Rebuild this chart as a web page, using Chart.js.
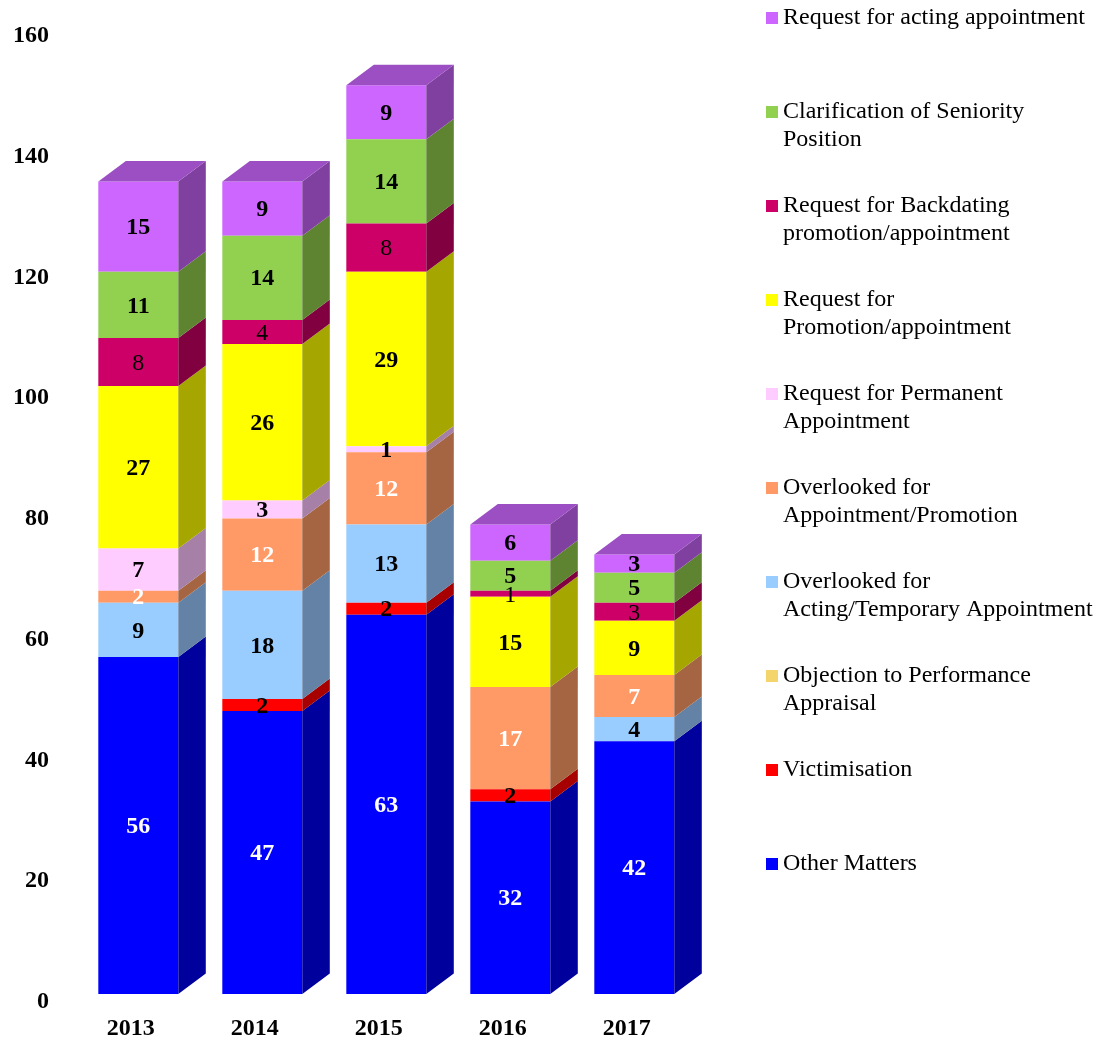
<!DOCTYPE html>
<html>
<head>
<meta charset="utf-8">
<title>Complaints by year</title>
<script src="https://cdn.jsdelivr.net/npm/chart.js@4/dist/chart.umd.min.js"></script>
<style>
    html, body { margin: 0; padding: 0; background: #fff; }
    canvas { display: block; }
</style>
</head>
<body>
<canvas id="complaintsChart" width="1104" height="1040"></canvas>
<script>
const years = ['2013', '2014', '2015', '2016', '2017'];
const yTicks = [0, 20, 40, 60, 80, 100, 120, 140, 160];

// Series, bottom of the stack first
const otherMatters = [56, 47, 63, 32, 42];
const victimisation = [0, 2, 2, 2, 0];
const performanceAppraisal = [0, 0, 0, 0, 0];
const overlookedActing = [9, 18, 13, 0, 4];
const overlookedPromotion = [2, 12, 12, 17, 7];
const permanentAppointment = [7, 3, 1, 0, 0];
const promotionRequest = [27, 26, 29, 15, 9];
const backdating = [8, 4, 8, 1, 3];
const seniority = [11, 14, 14, 5, 5];
const actingAppointment = [15, 9, 9, 6, 3];

const seriesStyles = [
    { lines: ['Other Matters'], data: otherMatters, front: '#0000FF', side: '#00009C', text: '#FFFFFF', weight: 'bold' },
    { lines: ['Victimisation'], data: victimisation, front: '#FF0000', side: '#A60000', text: '#000000', weight: 'bold' },
    { lines: ['Objection to Performance', 'Appraisal'], data: performanceAppraisal, front: '#F4D56B', side: '#9E8A45', text: '#000000', weight: 'bold' },
    { lines: ['Overlooked for', 'Acting/Temporary Appointment'], data: overlookedActing, front: '#99CCFF', side: '#6382A6', text: '#000000', weight: 'bold' },
    { lines: ['Overlooked for', 'Appointment/Promotion'], data: overlookedPromotion, front: '#FF9966', side: '#A66542', text: '#FFFFFF', weight: 'bold' },
    { lines: ['Request for Permanent', 'Appointment'], data: permanentAppointment, front: '#FFCCFF', side: '#A680A6', text: '#000000', weight: 'bold' },
    { lines: ['Request for', 'Promotion/appointment'], data: promotionRequest, front: '#FFFF00', side: '#A6A600', text: '#000000', weight: 'bold' },
    { lines: ['Request for Backdating', 'promotion/appointment'], data: backdating, front: '#CC0066', side: '#800040', text: '#000000', weight: 'normal' },
    { lines: ['Clarification of Seniority', 'Position'], data: seniority, front: '#92D050', side: '#5E8432', text: '#000000', weight: 'bold' },
    { lines: ['Request for acting appointment'], data: actingAppointment, front: '#CC66FF', side: '#8040A0', text: '#000000', weight: 'bold' }
];

const topFaceColor = '#9B4FC3';
const DEPTH_X = 27.5;
const DEPTH_Y = 20.5;
const SERIF = '"Liberation Serif", "Times New Roman", serif';

function fillFace(ctx, points, color) {
    ctx.fillStyle = color;
    ctx.beginPath();
    points.forEach(function(p, i) {
        if (i === 0) ctx.moveTo(p[0], p[1]);
        else ctx.lineTo(p[0], p[1]);
    });
    ctx.closePath();
    ctx.fill();
}

// Side and top faces that give the stacked bars their box look
const boxFaces = {
    id: 'boxFaces',
    afterDatasetsDraw(chart) {
        const ctx = chart.ctx;
        ctx.save();
        seriesStyles.forEach(function(series, s) {
            chart.getDatasetMeta(s).data.forEach(function(bar, i) {
                if (!series.data[i]) return;
                const right = bar.x + bar.width / 2;
                const left = bar.x - bar.width / 2;
                fillFace(ctx, [
                    [right, bar.y],
                    [right + DEPTH_X, bar.y - DEPTH_Y],
                    [right + DEPTH_X, bar.base - DEPTH_Y],
                    [right, bar.base]
                ], series.side);
                const isTop = seriesStyles.slice(s + 1).every(function(other) { return !other.data[i]; });
                if (isTop) {
                    fillFace(ctx, [
                        [left, bar.y],
                        [left + DEPTH_X, bar.y - DEPTH_Y],
                        [right + DEPTH_X, bar.y - DEPTH_Y],
                        [right, bar.y]
                    ], topFaceColor);
                }
            });
        });
        ctx.restore();
    }
};

// Value printed in the middle of each segment
const segmentLabels = {
    id: 'segmentLabels',
    afterDatasetsDraw(chart) {
        const ctx = chart.ctx;
        ctx.save();
        ctx.textAlign = 'center';
        ctx.textBaseline = 'middle';
        seriesStyles.forEach(function(series, s) {
            ctx.font = series.weight + ' 24px ' + SERIF;
            ctx.fillStyle = series.text;
            chart.getDatasetMeta(s).data.forEach(function(bar, i) {
                if (!series.data[i]) return;
                ctx.fillText(series.data[i], bar.x, (bar.y + bar.base) / 2 + 1.5);
            });
        });
        ctx.restore();
    }
};

// Legend column on the right, top of the stack listed first
const sideLegend = {
    id: 'sideLegend',
    afterDraw(chart) {
        const ctx = chart.ctx;
        ctx.save();
        ctx.font = '24px ' + SERIF;
        ctx.textBaseline = 'middle';
        seriesStyles.slice().reverse().forEach(function(series, row) {
            const y = 18 + row * 94;
            ctx.fillStyle = series.front;
            ctx.fillRect(766, y - 6, 12, 12);
            ctx.fillStyle = '#000000';
            series.lines.forEach(function(line, n) {
                ctx.fillText(line, 783, y + n * 28);
            });
        });
        ctx.restore();
    }
};

new Chart(document.getElementById('complaintsChart'), {
    type: 'bar',
    data: {
        labels: years,
        datasets: seriesStyles.map(function(series) {
            return {
                label: series.lines.join(' '),
                data: series.data,
                backgroundColor: series.front,
                borderWidth: 0,
                barPercentage: 0.645,
                categoryPercentage: 1,
                yAxisID: 'y'
            };
        })
    },
    options: {
        responsive: false,
        animation: false,
        layout: {
            padding: { top: 34, right: 407.7, bottom: 0, left: 0 }
        },
        plugins: {
            legend: { display: false },
            tooltip: { enabled: false }
        },
        scales: {
            x: {
                stacked: true,
                grid: { display: false, drawTicks: false },
                border: { display: false },
                afterFit(scale) { scale.height = 40; },
                ticks: {
                    color: '#000',
                    font: { family: SERIF, size: 24, weight: 'bold' },
                    labelOffset: -7.5,
                    padding: 14,
                    maxRotation: 0,
                    autoSkip: false
                }
            },
            // Bars are plotted on this one, the printed axis sits slightly lower
            y: {
                display: false,
                stacked: true,
                min: -1,
                max: 159.5
            },
            yLabels: {
                axis: 'y',
                position: 'left',
                min: 0.33,
                max: 160.33,
                grid: { display: false, drawTicks: false },
                border: { display: false },
                afterFit(scale) {
                    scale.width = 76.3;
                    // tick padding would otherwise push the plot area in
                    scale.paddingTop = 0;
                    scale.paddingBottom = 0;
                },
                afterBuildTicks(scale) {
                    scale.ticks = yTicks.map(function(v) { return { value: v }; });
                },
                ticks: {
                    color: '#000',
                    font: { family: SERIF, size: 24, weight: 'bold' },
                    padding: 27.3,
                    autoSkip: false
                }
            }
        }
    },
    plugins: [boxFaces, segmentLabels, sideLegend]
});
</script>
</body>
</html>
